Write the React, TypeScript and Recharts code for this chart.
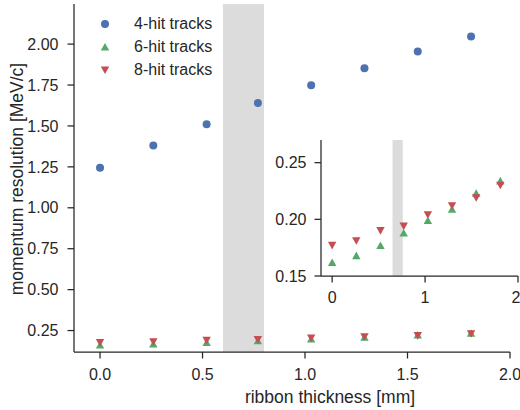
import React from 'react';
import { ScatterChart, Scatter, XAxis, YAxis, ReferenceArea, Label } from 'recharts';

const thickness = [0, 0.26, 0.52, 0.77, 1.03, 1.29, 1.55, 1.81];
const hit4 = [1.245, 1.38, 1.51, 1.64, 1.748, 1.852, 1.955, 2.047];
const hit6 = [0.162, 0.168, 0.177, 0.188, 0.199, 0.209, 0.223, 0.234];
const hit8 = [0.177, 0.181, 0.19, 0.194, 0.204, 0.212, 0.219, 0.23];

const mainXTicks = [0, 0.5, 1.0, 1.5, 2.0];
const mainYTicks = [0.25, 0.5, 0.75, 1.0, 1.25, 1.5, 1.75, 2.0];
const insetXTicks = [0, 1, 2];
const insetYTicks = [0.15, 0.2, 0.25];

const seriesNames = ['4-hit tracks', '6-hit tracks', '8-hit tracks'];

const BLUE = '#4C72B0';
const GREEN = '#55A868';
const RED = '#C44E52';
const INK = '#262626';
const SHADE = '#dcdcdc';
const FONT = '"Liberation Sans", Arial, sans-serif';

const toPts = (ys: number[]) => thickness.map((x, i) => ({ x, y: ys[i] }));
const d4 = toPts(hit4);
const d6 = toPts(hit6);
const d8 = toPts(hit8);

const Circle = (p: any) => <circle cx={p.cx} cy={p.cy} r={4} fill={BLUE} />;
const Up = (p: any) => (
  <path d={`M${p.cx},${p.cy - 4} L${p.cx - 4.2},${p.cy + 3.6} L${p.cx + 4.2},${p.cy + 3.6} Z`} fill={GREEN} />
);
const Down = (p: any) => (
  <path d={`M${p.cx},${p.cy + 4} L${p.cx - 4.2},${p.cy - 3.6} L${p.cx + 4.2},${p.cy - 3.6} Z`} fill={RED} />
);

const tickStyle = { fill: INK, fontSize: 16, fontFamily: FONT };

const LegendBox = () => {
  const markers = [
    <circle cx={6} cy={6} r={4} fill={BLUE} />,
    <path d="M6,2 L1.8,9.6 L10.2,9.6 Z" fill={GREEN} />,
    <path d="M6,10 L1.8,2.4 L10.2,2.4 Z" fill={RED} />,
  ];
  return (
    <div style={{ position: 'absolute', left: 99, top: 12, fontFamily: FONT, fontSize: 16, color: INK }}>
      {seriesNames.map((n, i) => (
        <div key={n} style={{ display: 'flex', alignItems: 'center', height: 23 }}>
          <svg width={12} height={12} style={{ marginRight: 23 }}>{markers[i]}</svg>
          <span>{n}</span>
        </div>
      ))}
    </div>
  );
};

export default function App() {
  return (
    <div style={{ position: 'absolute', left: 0, top: 0, width: 520, height: 410, background: '#fff' }}>
      <ScatterChart width={520} height={410} margin={{ top: 4, right: 10, bottom: 0, left: 0 }}>
        <ReferenceArea x1={0.6} x2={0.8} y1={0.119} y2={2.245} fill={SHADE} fillOpacity={1} stroke="none" />
        <XAxis
          type="number"
          dataKey="x"
          domain={[-0.127, 2.0]}
          ticks={mainXTicks}
          tickFormatter={(v: number) => v.toFixed(1)}
          allowDataOverflow
          height={58}
          stroke={INK}
          strokeWidth={1.25}
          tickSize={6.5}
          tick={tickStyle}
          tickMargin={10}
        >
          <Label
            content={() => (
              <text x={330} y={397} textAnchor="middle" dominantBaseline="central" fill={INK} fontSize={17.5} fontFamily={FONT}>
                ribbon thickness [mm]
              </text>
            )}
          />
        </XAxis>
        <YAxis
          type="number"
          dataKey="y"
          domain={[0.119, 2.245]}
          ticks={mainYTicks}
          tickFormatter={(v: number) => v.toFixed(2)}
          allowDataOverflow
          width={74}
          stroke={INK}
          strokeWidth={1.25}
          tickSize={6.5}
          tick={tickStyle}
          tickMargin={9}
        >
          <Label
            content={() => (
              <text x={17} y={179} transform="rotate(-90 17 179)" textAnchor="middle" dominantBaseline="central" fill={INK} fontSize={17.5} fontFamily={FONT}>
                momentum resolution [MeV/c]
              </text>
            )}
          />
        </YAxis>
        <Scatter name={seriesNames[0]} data={d4} shape={Circle} isAnimationActive={false} />
        <Scatter name={seriesNames[1]} data={d6} shape={Up} isAnimationActive={false} />
        <Scatter name={seriesNames[2]} data={d8} shape={Down} isAnimationActive={false} />
      </ScatterChart>
      <LegendBox />
      <div style={{ position: 'absolute', left: 270, top: 130 }}>
        <ScatterChart width={250} height={180} margin={{ top: 10, right: 2, bottom: 0, left: 0 }}>
          <ReferenceArea x1={0.65} x2={0.76} y1={0.15} y2={0.27} fill={SHADE} fillOpacity={1} stroke="none" />
          <XAxis
            type="number"
            dataKey="x"
            domain={[-0.12, 2.0]}
            ticks={insetXTicks}
            allowDataOverflow
            height={34}
            stroke={INK}
            strokeWidth={1.25}
            tickSize={6.5}
            tick={tickStyle}
            tickMargin={9}
          />
          <YAxis
            type="number"
            dataKey="y"
            domain={[0.15, 0.27]}
            ticks={insetYTicks}
            tickFormatter={(v: number) => v.toFixed(2)}
            allowDataOverflow
            width={51}
            stroke={INK}
            strokeWidth={1.25}
            tickSize={6.5}
            tick={tickStyle}
            tickMargin={8}
          />
          <Scatter data={d6} shape={Up} isAnimationActive={false} />
          <Scatter data={d8} shape={Down} isAnimationActive={false} />
        </ScatterChart>
      </div>
    </div>
  );
}
